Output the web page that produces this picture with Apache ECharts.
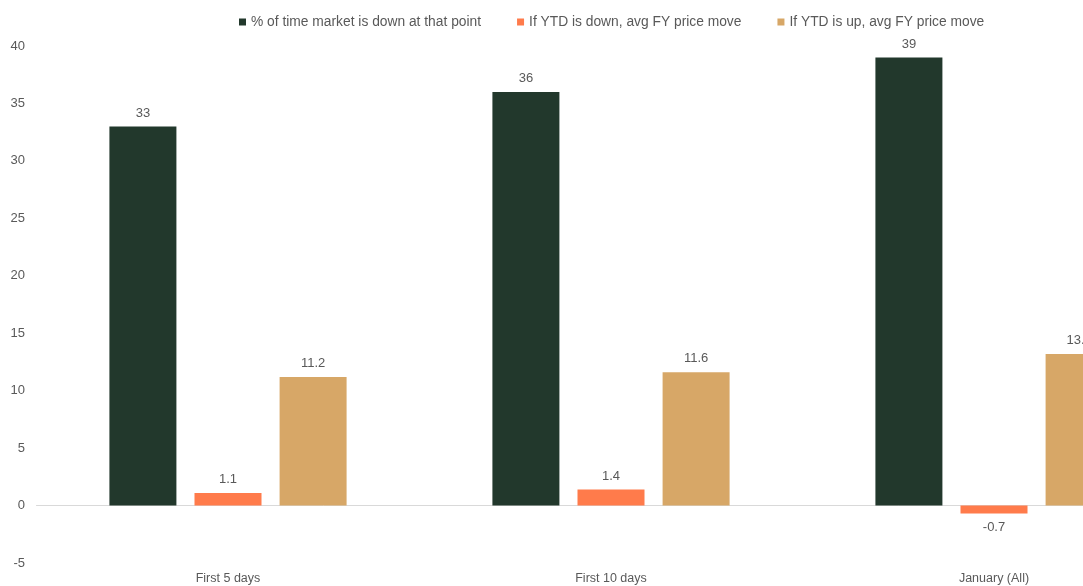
<!DOCTYPE html>
<html>
<head>
<meta charset="utf-8">
<script src="https://cdn.jsdelivr.net/npm/echarts@6/dist/echarts.min.js"></script>
<style>
html,body{margin:0;padding:0;background:#fff;overflow:hidden;width:1083px;height:586px;}
#c{width:1200px;height:586px;}
</style>
</head>
<body>
<div id="c"></div>
<script>
const categories = ['First 5 days', 'First 10 days', 'January (All)'];
const seriesNames = ['% of time market is down at that point', 'If YTD is down, avg FY price move', 'If YTD is up, avg FY price move'];
const pctDown = [33, 36, 39];
const ytdDownMove = [1.1, 1.4, -0.7];
const ytdUpMove = [11.2, 11.6, 13.2];
const colors = ['#22382c', '#ff7b4b', '#d7a767'];

const txt = '#595959';
const font = 'Liberation Sans, Arial, sans-serif';

function mk(name, vals, color) {
  return {
    name: name,
    type: 'bar',
    barWidth: 67,
    barGap: '27%',
    itemStyle: { color: color },
    label: { show: true, position: 'top', distance: 7, color: txt, fontSize: 13, fontFamily: font },
    data: vals.map(v => v < 0 ? { value: v, label: { position: 'bottom' } } : v)
  };
}

const chart = echarts.init(document.getElementById('c'), null, { renderer: 'canvas' });
chart.setOption({
  animation: false,
  color: colors,
  textStyle: { fontFamily: font },
  legend: {
    top: 10, left: 234,
    itemWidth: 7, itemHeight: 7, itemGap: 36,
    icon: 'rect',
    textStyle: { color: txt, fontSize: 13.8, fontFamily: font },
    data: seriesNames
  },
  grid: { left: 36.5, width: 1149, top: 46, bottom: 23, containLabel: false },
  xAxis: [
    {
      type: 'category', data: categories,
      axisLine: { show: false, onZero: false },
      axisTick: { show: false },
      axisLabel: { color: txt, fontSize: 12.5, margin: 9, fontFamily: font }
    },
    {
      type: 'category', data: categories, position: 'bottom',
      axisLine: { show: true, onZero: true, lineStyle: { color: '#d9d9d9', width: 1 } },
      axisTick: { show: false },
      axisLabel: { show: false }
    }
  ],
  yAxis: {
    type: 'value', min: -5, max: 40, interval: 5,
    axisLine: { show: false }, axisTick: { show: false },
    splitLine: { show: false },
    axisLabel: { color: txt, fontSize: 13, margin: 11.5, fontFamily: font }
  },
  series: [
    mk(seriesNames[0], pctDown, colors[0]),
    mk(seriesNames[1], ytdDownMove, colors[1]),
    mk(seriesNames[2], ytdUpMove, colors[2])
  ]
});
</script>
</body>
</html>
